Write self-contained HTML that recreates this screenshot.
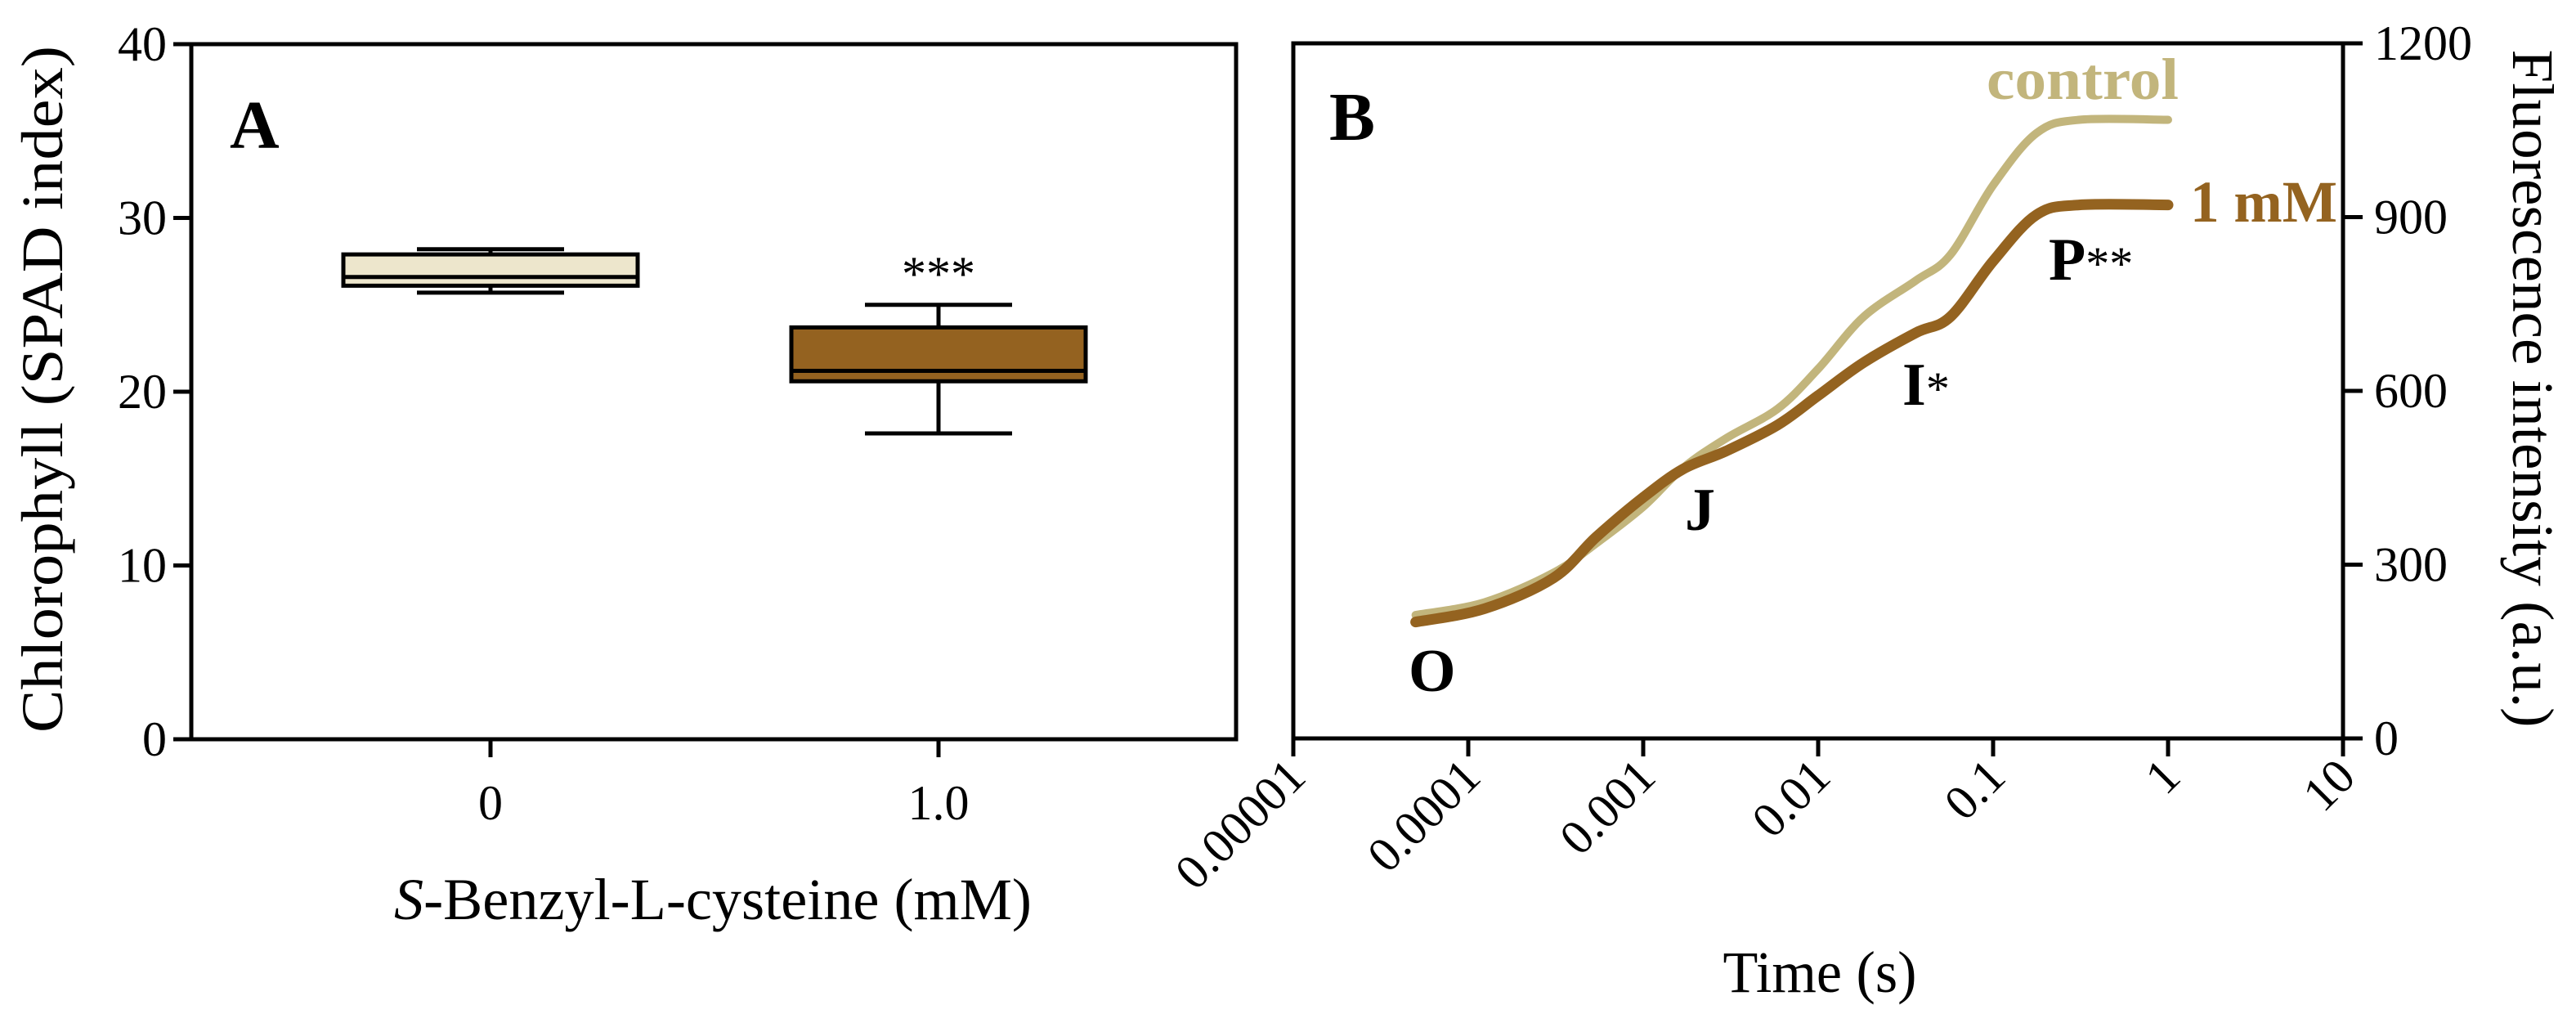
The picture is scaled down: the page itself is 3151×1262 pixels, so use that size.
<!DOCTYPE html>
<html><head><meta charset="utf-8"><style>
body{margin:0;background:#fff}
svg{display:block}
text{font-family:"Liberation Serif",serif}
</style></head><body>
<svg id="c" width="3151" height="1262" viewBox="0 0 3151 1262" xmlns="http://www.w3.org/2000/svg"></svg>
<script>
// Panel A data
const catsA = ["0","1.0"];
const boxMin = [25.7, 17.6];
const boxQ1 = [26.1, 20.6];
const boxMed = [26.6, 21.2];
const boxQ3 = [27.9, 23.7];
const boxMax = [28.2, 25.0];
const yTicksA = [0,10,20,30,40];
// Panel B data
const timeS = [5e-5,1.24e-4,3.07e-4,5.4e-4,1e-3,1.69e-3,2.97e-3,5.86e-3,0.01,0.0182,0.036,0.057,0.1,0.177,0.31,1];
const controlF = [213,235,286,337,400,467,518,569,638,728,790,835,955,1045,1068,1068];
const mmF = [201,224,277,348,416,465,496,541,592,649,700,728,824,904,921,921];
const xTicksB = ["0.00001","0.0001","0.001","0.01","0.1","1","10"];
const yTicksB = [0,300,600,900,1200];

const svg=document.getElementById('c');
const NS='http://www.w3.org/2000/svg';
function mk(tag,attrs,parent){const e=document.createElementNS(NS,tag);for(const k in attrs)e.setAttribute(k,attrs[k]);(parent||svg).appendChild(e);return e;}

// ---- Panel A
const AL=234,AR=1512,AT=54,AB=904;
const yA=v=>AB-(v/40)*(AB-AT);
const xA=i=>[600,1148][i];
const gA=mk('g',{});


let fr=mk('rect',{x:AL,y:AT,width:AR-AL,height:AB-AT,fill:'none',stroke:'#000','stroke-width':5},gA);

yTicksA.forEach(v=>{
  mk('line',{x1:AL-22,x2:AL,y1:yA(v),y2:yA(v),stroke:'#000','stroke-width':5},gA);
  const t=mk('text',{x:AL-30,y:yA(v)+20,'font-size':60,'text-anchor':'end'},gA);t.textContent=v;
  
});
const fills=['#ede6cc','#946220'];
catsA.forEach((c,i)=>{
  const x=xA(i);
  mk('line',{x1:x,x2:x,y1:AB,y2:AB+22,stroke:'#000','stroke-width':5},gA);
  const t=mk('text',{x:x,y:1002,'font-size':60,'text-anchor':'middle'},gA);t.textContent=c;
  
  const g=mk('g',{},gA);
  
  mk('line',{x1:x,x2:x,y1:yA(boxMax[i]),y2:yA(boxQ3[i]),stroke:'#000','stroke-width':5},g);
  mk('line',{x1:x,x2:x,y1:yA(boxQ1[i]),y2:yA(boxMin[i]),stroke:'#000','stroke-width':5},g);
  mk('line',{x1:x-90,x2:x+90,y1:yA(boxMax[i]),y2:yA(boxMax[i]),stroke:'#000','stroke-width':5},g);
  mk('line',{x1:x-90,x2:x+90,y1:yA(boxMin[i]),y2:yA(boxMin[i]),stroke:'#000','stroke-width':5},g);
  mk('rect',{x:x-180,y:yA(boxQ3[i]),width:360,height:yA(boxQ1[i])-yA(boxQ3[i]),fill:fills[i],stroke:'#000','stroke-width':5},g);
  mk('line',{x1:x-180,x2:x+180,y1:yA(boxMed[i]),y2:yA(boxMed[i]),stroke:'#000','stroke-width':5},g);
});
let st=mk('text',{x:xA(1),y:yA(boxMax[1])-18,'font-size':60,'text-anchor':'middle'},gA);st.textContent='***';

let la=mk('text',{x:281,y:181,'font-size':84,'font-weight':'bold'},gA);la.textContent='A';

let yt=mk('text',{x:0,y:0,'font-size':72,'text-anchor':'middle',textLength:840,lengthAdjust:'spacingAndGlyphs',transform:'translate(76,476) rotate(-90)'},gA);yt.textContent='Chlorophyll (SPAD index)';

let xt=mk('text',{x:872,y:1124,'font-size':72,'text-anchor':'middle',textLength:780,lengthAdjust:'spacingAndGlyphs'},gA);
xt.innerHTML='<tspan font-style="italic">S</tspan>-Benzyl-L-cysteine (mM)';


// ---- Panel B
const BL=1582,BR=2866,BT=53,BB=903;
const xB=t=>BL+(Math.log10(t)+5)*(BR-BL)/6;
const yB=v=>BB-(v/1200)*(BB-BT);
const gB=mk('g',{});

let fb=mk('rect',{x:BL,y:BT,width:BR-BL,height:BB-BT,fill:'none',stroke:'#000','stroke-width':5},gB);

xTicksB.forEach(l=>{
  const x=xB(parseFloat(l));
  mk('line',{x1:x,x2:x,y1:BB,y2:BB+22,stroke:'#000','stroke-width':5},gB);
  const t=mk('text',{x:0,y:0,'font-size':60,'text-anchor':'end',transform:`translate(${x+18},${BB+50}) rotate(-45)`},gB);t.textContent=l;
  
});
yTicksB.forEach(v=>{
  mk('line',{x1:BR,x2:BR+24,y1:yB(v),y2:yB(v),stroke:'#000','stroke-width':5},gB);
  const t=mk('text',{x:BR+38,y:yB(v)+20,'font-size':60},gB);t.textContent=v;
  
});
function line(vals,color,w,name){
  const P=timeS.map((t,i)=>[xB(t),yB(vals[i])]);
  let d='M'+P[0][0].toFixed(1)+','+P[0][1].toFixed(1);
  for(let i=0;i<P.length-1;i++){
    const p0=P[Math.max(0,i-1)],p1=P[i],p2=P[i+1],p3=P[Math.min(P.length-1,i+2)];
    const c1=[p1[0]+(p2[0]-p0[0])/6,p1[1]+(p2[1]-p0[1])/6];
    const c2=[p2[0]-(p3[0]-p1[0])/6,p2[1]-(p3[1]-p1[1])/6];
    d+=` C${c1[0].toFixed(1)},${c1[1].toFixed(1)} ${c2[0].toFixed(1)},${c2[1].toFixed(1)} ${p2[0].toFixed(1)},${p2[1].toFixed(1)}`;
  }
  const p=mk('path',{d:d,fill:'none',stroke:color,'stroke-width':w,'stroke-linecap':'round','stroke-linejoin':'round'},gB);
  
}
line(controlF,'#c2b57c',10,'control-line');
line(mmF,'#946320',13,'1mm-line');
function lbl(x,y,txt,fill,name,size){const t=mk('text',{x:x,y:y,'font-size':size||74,'font-weight':'bold',fill:fill},gB);t.textContent=txt;return t;}
const lc=lbl(2430,121,'control','#c2b57c','legend-control',72);lc.setAttribute('textLength',235);lc.setAttribute('lengthAdjust','spacingAndGlyphs');
const lm=lbl(2679,271,'1 mM','#946320','legend-1mm',72);lm.setAttribute('textLength',180);lm.setAttribute('lengthAdjust','spacingAndGlyphs');
lbl(1626,171,'B','#000','panel-b-label',84);
lbl(1723,845,'O','#000','point-o');
lbl(2061,648,'J','#000','point-j');
const ti=lbl(2327,495,'I','#000','point-i');ti.innerHTML='I<tspan font-weight="normal" font-size="58">*</tspan>';
const tp=lbl(2506,342,'P','#000','point-p');tp.innerHTML='P<tspan font-weight="normal" font-size="58">**</tspan>';
let tx=mk('text',{x:2226,y:1213,'font-size':72,'text-anchor':'middle',textLength:237,lengthAdjust:'spacingAndGlyphs'},gB);tx.textContent='Time (s)';

let ty=mk('text',{x:0,y:0,'font-size':72,'text-anchor':'middle',textLength:829,lengthAdjust:'spacingAndGlyphs',transform:'translate(3074,475) rotate(90)'},gB);ty.textContent='Fluorescence intensity (a.u.)';

</script>
</body></html>
